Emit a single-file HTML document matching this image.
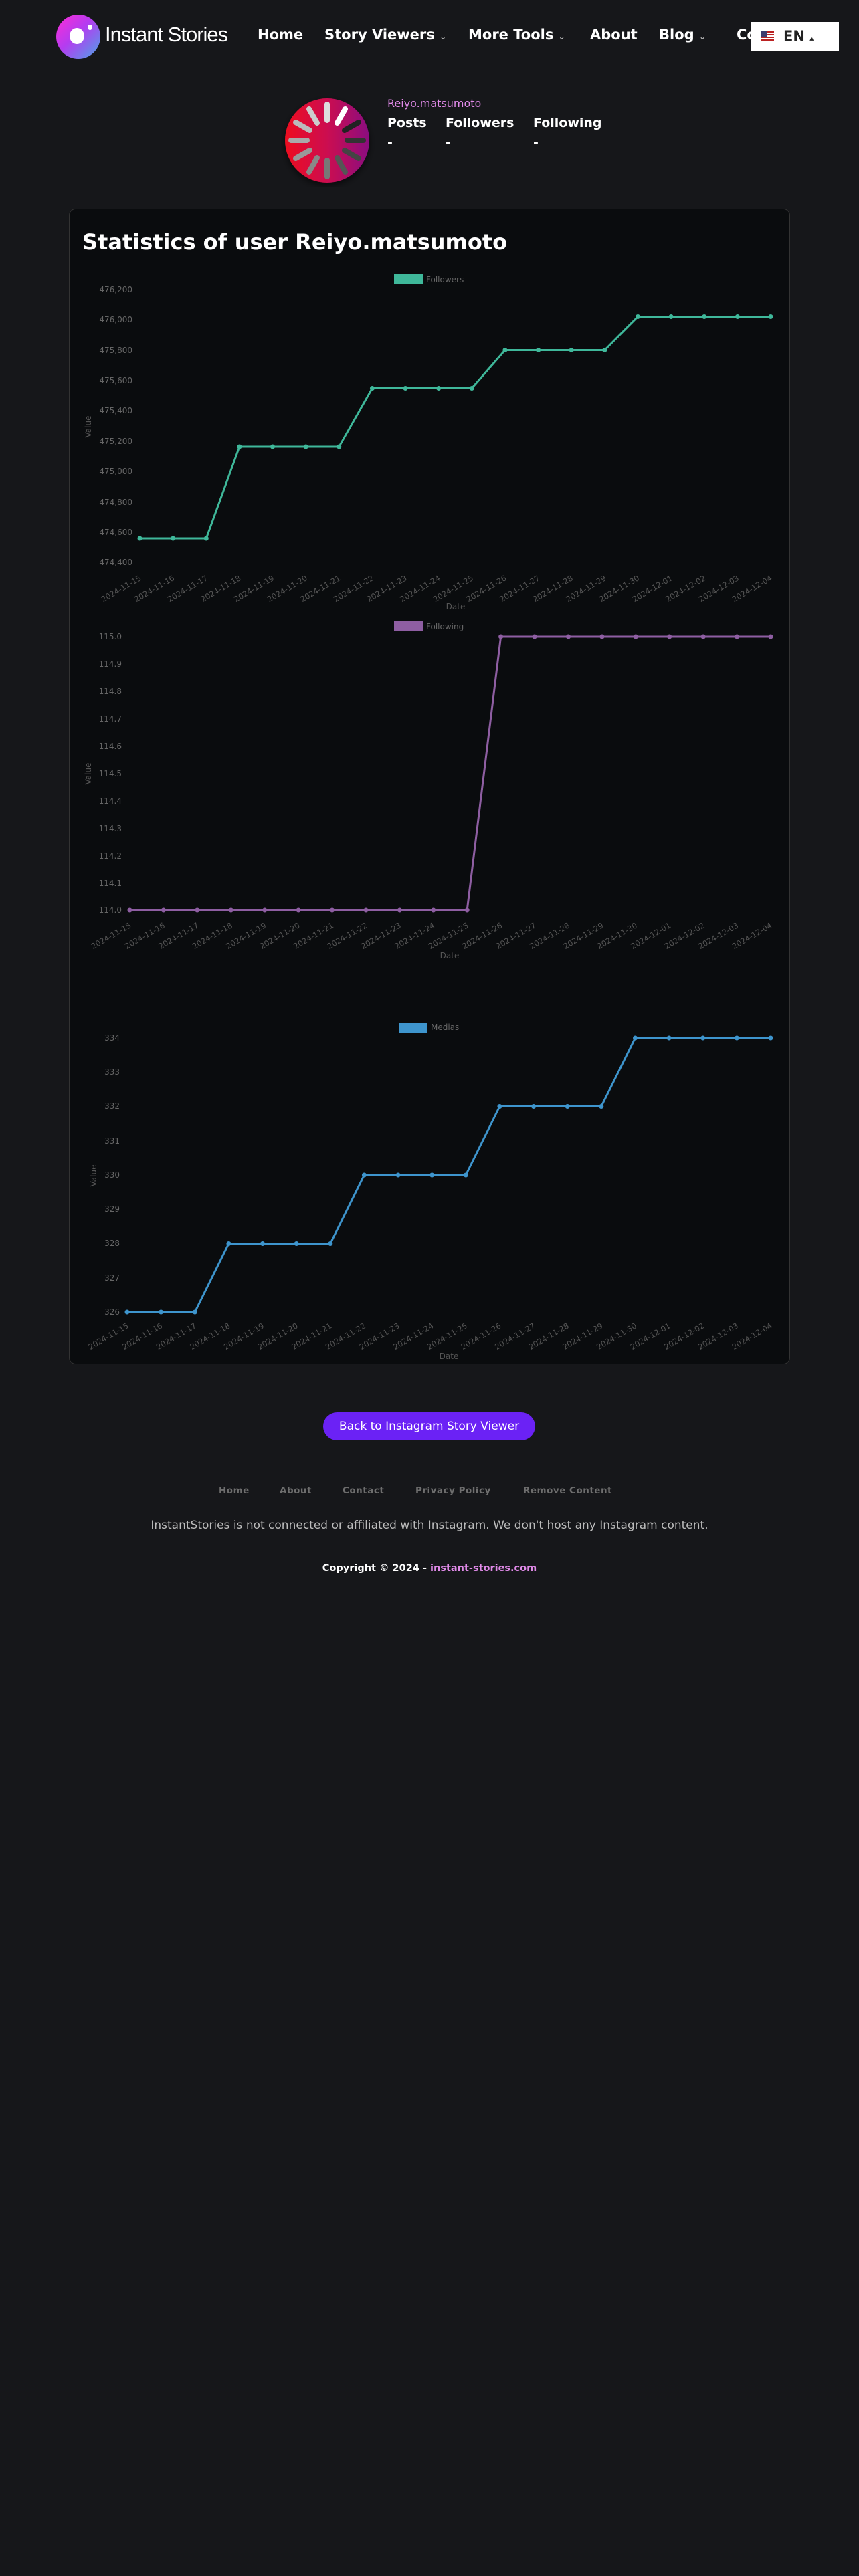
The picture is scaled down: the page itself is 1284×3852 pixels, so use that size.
<!DOCTYPE html>
<html><head><meta charset="utf-8">
<style>
html,body{margin:0;padding:0;background:#16171a;}
body{width:1284px;height:3852px;position:relative;overflow:hidden;font-family:"DejaVu Sans","Liberation Sans",sans-serif;}
.a{position:absolute;white-space:nowrap;}
.nav{font-weight:bold;font-size:21px;color:#fff;top:40px;}
.car{font-size:12px;color:#bbb;}
.st{font-weight:bold;font-size:19px;color:#fff;top:173px;}
.fl{font-weight:bold;font-size:13.5px;color:#6e6e6e;top:2221px;letter-spacing:0.5px;}
</style></head><body>
<!-- header -->
<div class="a" style="left:84px;top:22px;width:66px;height:66px;border-radius:50%;background:linear-gradient(135deg,#ff2bd6 0%,#b43cf0 45%,#4aa6e8 100%);"></div>
<div class="a" style="left:104px;top:42px;width:22px;height:24px;border-radius:50%;background:#fff;"></div>
<div class="a" style="left:131px;top:37px;width:7px;height:8px;border-radius:50%;background:#fff;"></div>
<div class="a" style="left:157px;top:34px;font-family:'Liberation Sans',sans-serif;font-size:31px;color:#fff;letter-spacing:-1px;">Instant Stories</div>
<div class="a nav" style="left:385px;">Home</div>
<div class="a nav" style="left:485px;">Story Viewers <span class="car">&#8964;</span></div>
<div class="a nav" style="left:700px;">More Tools <span class="car">&#8964;</span></div>
<div class="a nav" style="left:882px;">About</div>
<div class="a nav" style="left:985px;">Blog <span class="car">&#8964;</span></div>
<div class="a nav" style="left:1101px;">Co</div>
<div class="a" style="left:1122px;top:33px;width:132px;height:44px;background:#fff;"></div>
<div class="a" style="left:1137px;top:47px;width:20px;height:15px;background:repeating-linear-gradient(#b22 0 2px,#fff 2px 4px);"></div>
<div class="a" style="left:1137px;top:47px;width:9px;height:8px;background:#3c3b6e;"></div>
<div class="a" style="left:1171px;top:42px;font-weight:bold;font-size:21px;color:#222;">EN <span style="font-size:12px;color:#222;">&#9652;</span></div>

<!-- avatar -->
<svg class="a" style="left:420px;top:140px;" width="140" height="140" viewBox="0 0 140 140">
<defs><linearGradient id="av" x1="0" x2="1"><stop offset="0" stop-color="#ee1020"/><stop offset="0.5" stop-color="#cc1050"/><stop offset="1" stop-color="#8a1080"/></linearGradient>
<filter id="sh"><feDropShadow dx="0" dy="4" stdDeviation="5" flood-color="#000" flood-opacity="0.6"/></filter></defs>
<circle cx="69" cy="70" r="63" fill="url(#av)" filter="url(#sh)"/>
<g stroke-width="8" stroke-linecap="round">
<line x1="69" y1="16" x2="69" y2="40" stroke="#ddd"/>
<line x1="96" y1="23" x2="84" y2="44" stroke="#fff"/>
<line x1="116" y1="43" x2="95" y2="55" stroke="#222"/>
<line x1="123" y1="70" x2="99" y2="70" stroke="#333"/>
<line x1="116" y1="97" x2="95" y2="85" stroke="#444"/>
<line x1="96" y1="117" x2="84" y2="96" stroke="#555"/>
<line x1="69" y1="124" x2="69" y2="100" stroke="#777"/>
<line x1="42" y1="117" x2="54" y2="96" stroke="#888"/>
<line x1="22" y1="97" x2="43" y2="85" stroke="#999"/>
<line x1="15" y1="70" x2="39" y2="70" stroke="#aaa"/>
<line x1="22" y1="43" x2="43" y2="55" stroke="#bbb"/>
<line x1="42" y1="23" x2="54" y2="44" stroke="#ccc"/>
</g></svg>
<div class="a" style="left:579px;top:145px;font-size:16px;color:#e08ae8;">Reiyo.matsumoto</div>
<div class="a st" style="left:579px;">Posts</div>
<div class="a st" style="left:666px;">Followers</div>
<div class="a st" style="left:797px;">Following</div>
<div class="a st" style="left:579px;top:202px;">-</div>
<div class="a st" style="left:666px;top:202px;">-</div>
<div class="a st" style="left:797px;top:202px;">-</div>

<!-- card -->
<div class="a" style="left:103px;top:312px;width:1076px;height:1726px;background:#0a0c0e;border:1px solid #333;border-radius:10px;"></div>
<div class="a" style="left:123px;top:343px;font-weight:bold;font-size:32px;color:#fff;">Statistics of user Reiyo.matsumoto</div>

<svg class="a" style="left:0;top:0;" width="1284" height="2060" font-family="DejaVu Sans, sans-serif">
<!-- Chart 1 -->
<rect x="589" y="410" width="43" height="15" fill="#3fb89a"/>
<text x="637" y="422" font-size="12" fill="#666">Followers</text>
<g font-size="12" fill="#666" text-anchor="end">
<text x="198" y="437">476,200</text><text x="198" y="482">476,000</text><text x="198" y="528">475,800</text><text x="198" y="573">475,600</text><text x="198" y="618">475,400</text><text x="198" y="664">475,200</text><text x="198" y="709">475,000</text><text x="198" y="755">474,800</text><text x="198" y="800">474,600</text><text x="198" y="845">474,400</text>
</g>
<text transform="translate(136,638) rotate(-90)" font-size="12" fill="#555" text-anchor="middle">Value</text>
<text x="681" y="911" font-size="12" fill="#555" text-anchor="middle">Date</text>
<polyline fill="none" stroke="#3fb89a" stroke-width="3" points="209,805 258.6,805 308.3,805 357.9,668 407.5,668 457.2,668 506.8,668 556.4,580.5 606,580.5 655.7,580.5 705.3,580.5 754.9,523.5 804.6,523.5 854.2,523.5 903.8,523.5 953.5,473.5 1003.1,473.5 1052.7,473.5 1102.4,473.5 1152,473.5"/>
<g fill="#3fb89a">
<circle cx="209" cy="805" r="3.5"/><circle cx="258.6" cy="805" r="3.5"/><circle cx="308.3" cy="805" r="3.5"/><circle cx="357.9" cy="668" r="3.5"/><circle cx="407.5" cy="668" r="3.5"/><circle cx="457.2" cy="668" r="3.5"/><circle cx="506.8" cy="668" r="3.5"/><circle cx="556.4" cy="580.5" r="3.5"/><circle cx="606" cy="580.5" r="3.5"/><circle cx="655.7" cy="580.5" r="3.5"/><circle cx="705.3" cy="580.5" r="3.5"/><circle cx="754.9" cy="523.5" r="3.5"/><circle cx="804.6" cy="523.5" r="3.5"/><circle cx="854.2" cy="523.5" r="3.5"/><circle cx="903.8" cy="523.5" r="3.5"/><circle cx="953.5" cy="473.5" r="3.5"/><circle cx="1003.1" cy="473.5" r="3.5"/><circle cx="1052.7" cy="473.5" r="3.5"/><circle cx="1102.4" cy="473.5" r="3.5"/><circle cx="1152" cy="473.5" r="3.5"/>
</g>
<g font-size="11.5" fill="#555" text-anchor="end">
<text transform="translate(212,867) rotate(-30)">2024-11-15</text><text transform="translate(261.6,867) rotate(-30)">2024-11-16</text><text transform="translate(311.3,867) rotate(-30)">2024-11-17</text><text transform="translate(360.9,867) rotate(-30)">2024-11-18</text><text transform="translate(410.5,867) rotate(-30)">2024-11-19</text><text transform="translate(460.2,867) rotate(-30)">2024-11-20</text><text transform="translate(509.8,867) rotate(-30)">2024-11-21</text><text transform="translate(559.4,867) rotate(-30)">2024-11-22</text><text transform="translate(609,867) rotate(-30)">2024-11-23</text><text transform="translate(658.7,867) rotate(-30)">2024-11-24</text><text transform="translate(708.3,867) rotate(-30)">2024-11-25</text><text transform="translate(757.9,867) rotate(-30)">2024-11-26</text><text transform="translate(807.6,867) rotate(-30)">2024-11-27</text><text transform="translate(857.2,867) rotate(-30)">2024-11-28</text><text transform="translate(906.8,867) rotate(-30)">2024-11-29</text><text transform="translate(956.5,867) rotate(-30)">2024-11-30</text><text transform="translate(1006.1,867) rotate(-30)">2024-12-01</text><text transform="translate(1055.7,867) rotate(-30)">2024-12-02</text><text transform="translate(1105.4,867) rotate(-30)">2024-12-03</text><text transform="translate(1155,867) rotate(-30)">2024-12-04</text>
</g>

<!-- Chart 2 -->
<rect x="589" y="929" width="43" height="15" fill="#8e5ea2"/>
<text x="637" y="941" font-size="12" fill="#666">Following</text>
<g font-size="12" fill="#666" text-anchor="end">
<text x="182" y="956">115.0</text><text x="182" y="997">114.9</text><text x="182" y="1038">114.8</text><text x="182" y="1079">114.7</text><text x="182" y="1120">114.6</text><text x="182" y="1161">114.5</text><text x="182" y="1202">114.4</text><text x="182" y="1243">114.3</text><text x="182" y="1284">114.2</text><text x="182" y="1325">114.1</text><text x="182" y="1365">114.0</text>
</g>
<text transform="translate(136,1157) rotate(-90)" font-size="12" fill="#555" text-anchor="middle">Value</text>
<text x="672" y="1433" font-size="12" fill="#555" text-anchor="middle">Date</text>
<polyline fill="none" stroke="#8e5ea2" stroke-width="3" points="194,1361 244.4,1361 294.8,1361 345.3,1361 395.7,1361 446.1,1361 496.5,1361 547,1361 597.4,1361 647.8,1361 698.2,1361 748.6,952 799,952 849.5,952 899.9,952 950.3,952 1000.7,952 1051.2,952 1101.6,952 1152,952"/>
<g fill="#8e5ea2">
<circle cx="194" cy="1361" r="3.5"/><circle cx="244.4" cy="1361" r="3.5"/><circle cx="294.8" cy="1361" r="3.5"/><circle cx="345.3" cy="1361" r="3.5"/><circle cx="395.7" cy="1361" r="3.5"/><circle cx="446.1" cy="1361" r="3.5"/><circle cx="496.5" cy="1361" r="3.5"/><circle cx="547" cy="1361" r="3.5"/><circle cx="597.4" cy="1361" r="3.5"/><circle cx="647.8" cy="1361" r="3.5"/><circle cx="698.2" cy="1361" r="3.5"/><circle cx="748.6" cy="952" r="3.5"/><circle cx="799" cy="952" r="3.5"/><circle cx="849.5" cy="952" r="3.5"/><circle cx="899.9" cy="952" r="3.5"/><circle cx="950.3" cy="952" r="3.5"/><circle cx="1000.7" cy="952" r="3.5"/><circle cx="1051.2" cy="952" r="3.5"/><circle cx="1101.6" cy="952" r="3.5"/><circle cx="1152" cy="952" r="3.5"/>
</g>
<g font-size="11.5" fill="#555" text-anchor="end">
<text transform="translate(197,1386) rotate(-30)">2024-11-15</text><text transform="translate(247.4,1386) rotate(-30)">2024-11-16</text><text transform="translate(297.8,1386) rotate(-30)">2024-11-17</text><text transform="translate(348.3,1386) rotate(-30)">2024-11-18</text><text transform="translate(398.7,1386) rotate(-30)">2024-11-19</text><text transform="translate(449.1,1386) rotate(-30)">2024-11-20</text><text transform="translate(499.5,1386) rotate(-30)">2024-11-21</text><text transform="translate(550,1386) rotate(-30)">2024-11-22</text><text transform="translate(600.4,1386) rotate(-30)">2024-11-23</text><text transform="translate(650.8,1386) rotate(-30)">2024-11-24</text><text transform="translate(701.2,1386) rotate(-30)">2024-11-25</text><text transform="translate(751.6,1386) rotate(-30)">2024-11-26</text><text transform="translate(802,1386) rotate(-30)">2024-11-27</text><text transform="translate(852.5,1386) rotate(-30)">2024-11-28</text><text transform="translate(902.9,1386) rotate(-30)">2024-11-29</text><text transform="translate(953.3,1386) rotate(-30)">2024-11-30</text><text transform="translate(1003.7,1386) rotate(-30)">2024-12-01</text><text transform="translate(1054.2,1386) rotate(-30)">2024-12-02</text><text transform="translate(1104.6,1386) rotate(-30)">2024-12-03</text><text transform="translate(1155,1386) rotate(-30)">2024-12-04</text>
</g>

<!-- Chart 3 -->
<rect x="596" y="1529" width="43" height="15" fill="#3e95cd"/>
<text x="644" y="1540" font-size="12" fill="#666">Medias</text>
<g font-size="12" fill="#666" text-anchor="end">
<text x="179" y="1556">334</text><text x="179" y="1607">333</text><text x="179" y="1658">332</text><text x="179" y="1710">331</text><text x="179" y="1761">330</text><text x="179" y="1812">329</text><text x="179" y="1863">328</text><text x="179" y="1915">327</text><text x="179" y="1966">326</text>
</g>
<text transform="translate(144,1758) rotate(-90)" font-size="12" fill="#555" text-anchor="middle">Value</text>
<text x="671" y="2032" font-size="12" fill="#555" text-anchor="middle">Date</text>
<polyline fill="none" stroke="#3e95cd" stroke-width="3" points="190,1962 240.6,1962 291.3,1962 341.9,1859.5 392.5,1859.5 443.2,1859.5 493.8,1859.5 544.4,1757 595.1,1757 645.7,1757 696.3,1757 746.9,1654.5 797.6,1654.5 848.2,1654.5 898.8,1654.5 949.5,1552 1000.1,1552 1050.7,1552 1101.4,1552 1152,1552"/>
<g fill="#3e95cd">
<circle cx="190" cy="1962" r="3.5"/><circle cx="240.6" cy="1962" r="3.5"/><circle cx="291.3" cy="1962" r="3.5"/><circle cx="341.9" cy="1859.5" r="3.5"/><circle cx="392.5" cy="1859.5" r="3.5"/><circle cx="443.2" cy="1859.5" r="3.5"/><circle cx="493.8" cy="1859.5" r="3.5"/><circle cx="544.4" cy="1757" r="3.5"/><circle cx="595.1" cy="1757" r="3.5"/><circle cx="645.7" cy="1757" r="3.5"/><circle cx="696.3" cy="1757" r="3.5"/><circle cx="746.9" cy="1654.5" r="3.5"/><circle cx="797.6" cy="1654.5" r="3.5"/><circle cx="848.2" cy="1654.5" r="3.5"/><circle cx="898.8" cy="1654.5" r="3.5"/><circle cx="949.5" cy="1552" r="3.5"/><circle cx="1000.1" cy="1552" r="3.5"/><circle cx="1050.7" cy="1552" r="3.5"/><circle cx="1101.4" cy="1552" r="3.5"/><circle cx="1152" cy="1552" r="3.5"/>
</g>
<g font-size="11.5" fill="#555" text-anchor="end">
<text transform="translate(193,1985) rotate(-30)">2024-11-15</text><text transform="translate(243.6,1985) rotate(-30)">2024-11-16</text><text transform="translate(294.3,1985) rotate(-30)">2024-11-17</text><text transform="translate(344.9,1985) rotate(-30)">2024-11-18</text><text transform="translate(395.5,1985) rotate(-30)">2024-11-19</text><text transform="translate(446.2,1985) rotate(-30)">2024-11-20</text><text transform="translate(496.8,1985) rotate(-30)">2024-11-21</text><text transform="translate(547.4,1985) rotate(-30)">2024-11-22</text><text transform="translate(598.1,1985) rotate(-30)">2024-11-23</text><text transform="translate(648.7,1985) rotate(-30)">2024-11-24</text><text transform="translate(699.3,1985) rotate(-30)">2024-11-25</text><text transform="translate(749.9,1985) rotate(-30)">2024-11-26</text><text transform="translate(800.6,1985) rotate(-30)">2024-11-27</text><text transform="translate(851.2,1985) rotate(-30)">2024-11-28</text><text transform="translate(901.8,1985) rotate(-30)">2024-11-29</text><text transform="translate(952.5,1985) rotate(-30)">2024-11-30</text><text transform="translate(1003.1,1985) rotate(-30)">2024-12-01</text><text transform="translate(1053.7,1985) rotate(-30)">2024-12-02</text><text transform="translate(1104.4,1985) rotate(-30)">2024-12-03</text><text transform="translate(1155,1985) rotate(-30)">2024-12-04</text>
</g>
</svg>

<!-- button & footer -->
<div class="a" style="left:483px;top:2112px;width:317px;height:42px;border-radius:21px;background:#6b22f5;color:#fff;font-size:17px;line-height:42px;text-align:center;">Back to Instagram Story Viewer</div>
<div class="a fl" style="left:327px;">Home</div>
<div class="a fl" style="left:418px;">About</div>
<div class="a fl" style="left:512px;">Contact</div>
<div class="a fl" style="left:621px;">Privacy Policy</div>
<div class="a fl" style="left:782px;">Remove Content</div>
<div class="a" style="left:0;width:1284px;top:2271px;text-align:center;font-size:17px;color:#bbb;">InstantStories is not connected or affiliated with Instagram. We don't host any Instagram content.</div>
<div class="a" style="left:0;width:1284px;top:2337px;text-align:center;font-size:14.5px;font-weight:bold;color:#fff;">Copyright © 2024 - <span style="color:#e08ae8;text-decoration:underline;">instant-stories.com</span></div>
</body></html>
